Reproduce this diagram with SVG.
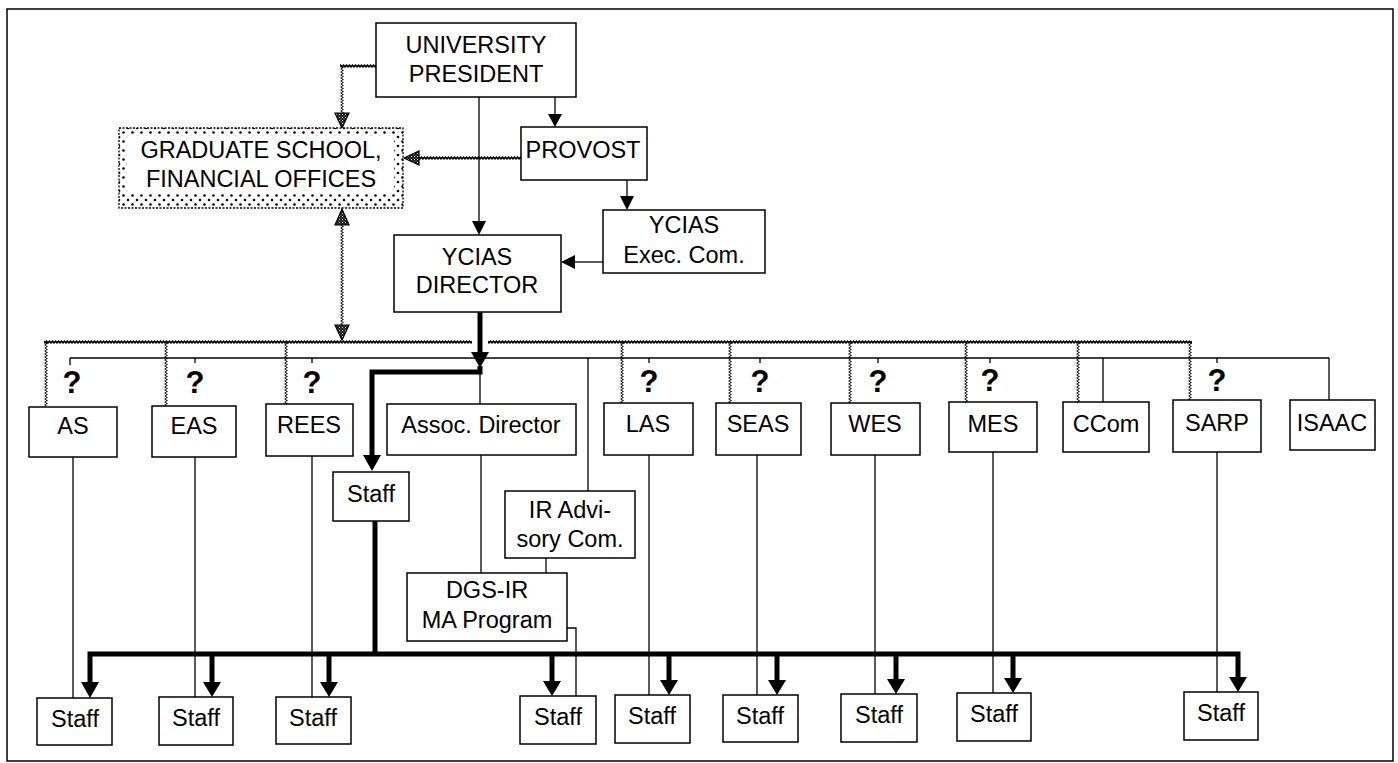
<svg xmlns="http://www.w3.org/2000/svg" width="1398" height="763" viewBox="0 0 1398 763">
<style>
.box{fill:#fff;stroke:#000;stroke-width:1.5}
.t{font-family:"Liberation Sans",Arial,sans-serif;font-size:23.5px;fill:#000;text-anchor:middle}
.q{font-family:"Liberation Sans",Arial,sans-serif;font-size:31px;font-weight:bold;fill:#000;text-anchor:middle}
.thin{stroke:#000;stroke-width:1.3;fill:none}
.thick{stroke:#000;stroke-width:5;fill:none}
.ah{fill:#000}
.hh{fill:url(#check);stroke:#000;stroke-width:1.2}
</style>
<defs>
<pattern id="zigH" width="3" height="4" patternUnits="userSpaceOnUse"><polygon points="0,1.5 1.5,0 3,1.5 3,4 1.5,2.5 0,4" fill="#000"/></pattern>
<pattern id="zigV" width="4" height="3" patternUnits="userSpaceOnUse"><polygon points="0,0 1.5,0 4,1.5 1.5,3 0,3 2.5,1.5" fill="#000"/></pattern>
<pattern id="check" width="3" height="3" patternUnits="userSpaceOnUse"><rect width="3" height="3" fill="#000"/><rect width="1" height="1" fill="#fff"/><rect x="1.5" y="1.5" width="1" height="1" fill="#fff"/></pattern>
<pattern id="dots" width="9" height="9" patternUnits="userSpaceOnUse"><rect width="9" height="9" fill="#fff"/><circle cx="2" cy="2" r="1.3" fill="#000"/><circle cx="6.5" cy="6.5" r="1.3" fill="#000"/></pattern>
</defs>
<rect x="7" y="9" width="1386" height="752" fill="none" stroke="#000" stroke-width="1.5"/>

<g id="connectors">
<!-- wavy (zigzag) lines -->
<rect x="340" y="64" width="36" height="4" fill="url(#zigH)"/>
<rect x="340" y="66" width="4" height="48" fill="url(#zigV)"/>
<polygon class="hh" points="335,113 349,113 342,128"/>
<rect x="418" y="156" width="103" height="4" fill="url(#zigH)"/>
<polygon class="hh" points="419,151 419,165 404,158"/>
<rect x="340" y="224" width="4" height="102" fill="url(#zigV)"/>
<polygon class="hh" points="335,225 349,225 342,209"/>
<polygon class="hh" points="335,325 349,325 342,340"/>
<rect x="44" y="340" width="428" height="4" fill="url(#zigH)"/>
<rect x="488" y="340" width="704" height="4" fill="url(#zigH)"/>
<rect x="44" y="342" width="4" height="64" fill="url(#zigV)"/>
<rect x="164" y="342" width="4" height="64" fill="url(#zigV)"/>
<rect x="284" y="342" width="4" height="62" fill="url(#zigV)"/>
<rect x="620" y="342" width="4" height="61" fill="url(#zigV)"/>
<rect x="728" y="342" width="4" height="61" fill="url(#zigV)"/>
<rect x="848" y="342" width="4" height="61" fill="url(#zigV)"/>
<rect x="964" y="342" width="4" height="60" fill="url(#zigV)"/>
<rect x="1076" y="342" width="4" height="60" fill="url(#zigV)"/>
<rect x="1188" y="342" width="4" height="58" fill="url(#zigV)"/>

<!-- thin lines top -->
<line class="thin" x1="555" y1="97" x2="555" y2="115"/>
<polygon class="ah" points="548,114 562,114 555,127"/>
<line class="thin" x1="479" y1="97" x2="479" y2="222"/>
<polygon class="ah" points="472,221 486,221 479,235"/>
<line class="thin" x1="627" y1="180" x2="627" y2="197"/>
<polygon class="ah" points="620,196 634,196 627,210"/>
<line class="thin" x1="603" y1="262" x2="574" y2="262"/>
<polygon class="ah" points="575,255 575,269 561,262"/>

<!-- thin horizontal bus -->
<line class="thin" x1="70" y1="358" x2="1329" y2="358"/>
<line class="thin" x1="70" y1="358" x2="70" y2="365"/>
<line class="thin" x1="195" y1="358" x2="195" y2="363"/>
<line class="thin" x1="312" y1="358" x2="312" y2="363"/>
<line class="thin" x1="649" y1="358" x2="649" y2="363"/>
<line class="thin" x1="760" y1="358" x2="760" y2="363"/>
<line class="thin" x1="878" y1="358" x2="878" y2="363"/>
<line class="thin" x1="990" y1="358" x2="990" y2="363"/>
<line class="thin" x1="1217" y1="358" x2="1217" y2="363"/>
<line class="thin" x1="1103" y1="358" x2="1103" y2="402"/>
<line class="thin" x1="1329" y1="358" x2="1329" y2="400"/>
<line class="thin" x1="588" y1="358" x2="588" y2="491"/>
<line class="thin" x1="480" y1="372" x2="480" y2="404"/>

<!-- thick director line -->
<line class="thick" x1="480" y1="312" x2="480" y2="354"/>
<polygon class="ah" points="471,352 489,352 480,368"/>
<path class="thick" d="M480,366 L480,372 L372,372 L372,457"/>
<polygon class="ah" points="363,455 381,455 372,471"/>

<!-- thin lines lower -->
<line class="thin" x1="73" y1="457" x2="73" y2="698"/>
<line class="thin" x1="195" y1="457" x2="195" y2="697"/>
<line class="thin" x1="312" y1="456" x2="312" y2="697"/>
<line class="thin" x1="481" y1="455" x2="481" y2="573"/>
<line class="thin" x1="546" y1="558" x2="546" y2="573"/>
<path class="thin" d="M567,628 L576,628 L576,696"/>
<line class="thin" x1="649" y1="455" x2="649" y2="695"/>
<line class="thin" x1="757" y1="455" x2="757" y2="695"/>
<line class="thin" x1="875" y1="455" x2="875" y2="694"/>
<line class="thin" x1="993" y1="452" x2="993" y2="693"/>
<line class="thin" x1="1217" y1="452" x2="1217" y2="692"/>

<!-- thick staff bus -->
<line class="thick" x1="375" y1="521" x2="375" y2="654"/>
<path class="thick" d="M90,684 L90,654 L1238,654 L1238,682"/>
<line class="thick" x1="212" y1="654" x2="212" y2="684"/>
<line class="thick" x1="329" y1="654" x2="329" y2="684"/>
<line class="thick" x1="552" y1="654" x2="552" y2="683"/>
<line class="thick" x1="669" y1="654" x2="669" y2="682"/>
<line class="thick" x1="777" y1="654" x2="777" y2="682"/>
<line class="thick" x1="896" y1="654" x2="896" y2="681"/>
<line class="thick" x1="1013" y1="654" x2="1013" y2="680"/>
<polygon class="ah" points="81,682 99,682 90,698"/>
<polygon class="ah" points="203,682 221,682 212,697"/>
<polygon class="ah" points="320,682 338,682 329,697"/>
<polygon class="ah" points="543,681 561,681 552,696"/>
<polygon class="ah" points="660,680 678,680 669,695"/>
<polygon class="ah" points="768,680 786,680 777,695"/>
<polygon class="ah" points="887,679 905,679 896,694"/>
<polygon class="ah" points="1004,678 1022,678 1013,693"/>
<polygon class="ah" points="1229,677 1247,677 1238,692"/>
</g>

<g class="q">
<text x="72" y="393">?</text>
<text x="195" y="393">?</text>
<text x="312" y="393">?</text>
<text x="649" y="392">?</text>
<text x="760" y="392">?</text>
<text x="878" y="392">?</text>
<text x="990" y="391">?</text>
<text x="1217" y="391">?</text>
</g>

<g id="president"><rect class="box" x="376" y="23" width="200" height="74"/><text class="t" x="476" y="53">UNIVERSITY</text><text class="t" x="476" y="82">PRESIDENT</text></g>
<g id="gradschool"><rect x="119" y="128" width="284" height="80" fill="url(#dots)" stroke="#000" stroke-width="1.3" stroke-dasharray="2 1.5"/><rect x="127" y="136" width="267" height="58" fill="#fff"/><text class="t" x="261" y="158">GRADUATE SCHOOL,</text><text class="t" x="261" y="187">FINANCIAL OFFICES</text></g>
<g id="provost"><rect class="box" x="521" y="127" width="126" height="53"/><text class="t" x="583" y="158">PROVOST</text></g>
<g id="execcom"><rect class="box" x="603" y="210" width="162" height="63"/><text class="t" x="684" y="233">YCIAS</text><text class="t" x="684" y="263">Exec. Com.</text></g>
<g id="director"><rect class="box" x="394" y="235" width="167" height="77"/><text class="t" x="477" y="265">YCIAS</text><text class="t" x="477" y="293">DIRECTOR</text></g>

<g id="as"><rect class="box" x="29" y="407" width="88" height="50"/><text class="t" x="73" y="434">AS</text></g>
<g id="eas"><rect class="box" x="152" y="406" width="84" height="51"/><text class="t" x="194" y="434">EAS</text></g>
<g id="rees"><rect class="box" x="266" y="404" width="87" height="52"/><text class="t" x="309" y="433">REES</text></g>
<g id="assoc"><rect class="box" x="387" y="404" width="189" height="51"/><text class="t" x="481" y="433">Assoc. Director</text></g>
<g id="las"><rect class="box" x="604" y="403" width="89" height="52"/><text class="t" x="648" y="432">LAS</text></g>
<g id="seas"><rect class="box" x="716" y="403" width="85" height="52"/><text class="t" x="758" y="432">SEAS</text></g>
<g id="wes"><rect class="box" x="831" y="403" width="89" height="52"/><text class="t" x="875" y="432">WES</text></g>
<g id="mes"><rect class="box" x="949" y="402" width="88" height="50"/><text class="t" x="993" y="432">MES</text></g>
<g id="ccom"><rect class="box" x="1063" y="402" width="86" height="50"/><text class="t" x="1106" y="432">CCom</text></g>
<g id="sarp"><rect class="box" x="1173" y="400" width="88" height="52"/><text class="t" x="1217" y="431">SARP</text></g>
<g id="isaac"><rect class="box" x="1290" y="400" width="85" height="50"/><text class="t" x="1332" y="431">ISAAC</text></g>

<g id="staff-mid"><rect class="box" x="333" y="472" width="76" height="49"/><text class="t" x="371" y="502">Staff</text></g>
<g id="iradv"><rect class="box" x="505" y="491" width="130" height="67"/><text class="t" x="570" y="518">IR Advi-</text><text class="t" x="570" y="547">sory Com.</text></g>
<g id="dgsir"><rect class="box" x="407" y="573" width="160" height="68"/><text class="t" x="487" y="598">DGS-IR</text><text class="t" x="487" y="628">MA Program</text></g>

<g id="staff1"><rect class="box" x="37" y="698" width="75" height="47"/><text class="t" x="75" y="727">Staff</text></g>
<g id="staff2"><rect class="box" x="159" y="697" width="74" height="48"/><text class="t" x="196" y="726">Staff</text></g>
<g id="staff3"><rect class="box" x="276" y="697" width="75" height="47"/><text class="t" x="313" y="726">Staff</text></g>
<g id="staff4"><rect class="box" x="520" y="696" width="76" height="48"/><text class="t" x="558" y="725">Staff</text></g>
<g id="staff5"><rect class="box" x="615" y="695" width="75" height="48"/><text class="t" x="652" y="724">Staff</text></g>
<g id="staff6"><rect class="box" x="723" y="695" width="75" height="47"/><text class="t" x="760" y="724">Staff</text></g>
<g id="staff7"><rect class="box" x="841" y="694" width="76" height="48"/><text class="t" x="879" y="723">Staff</text></g>
<g id="staff8"><rect class="box" x="957" y="693" width="74" height="48"/><text class="t" x="994" y="722">Staff</text></g>
<g id="staff9"><rect class="box" x="1184" y="692" width="74" height="48"/><text class="t" x="1221" y="721">Staff</text></g>
</svg>
